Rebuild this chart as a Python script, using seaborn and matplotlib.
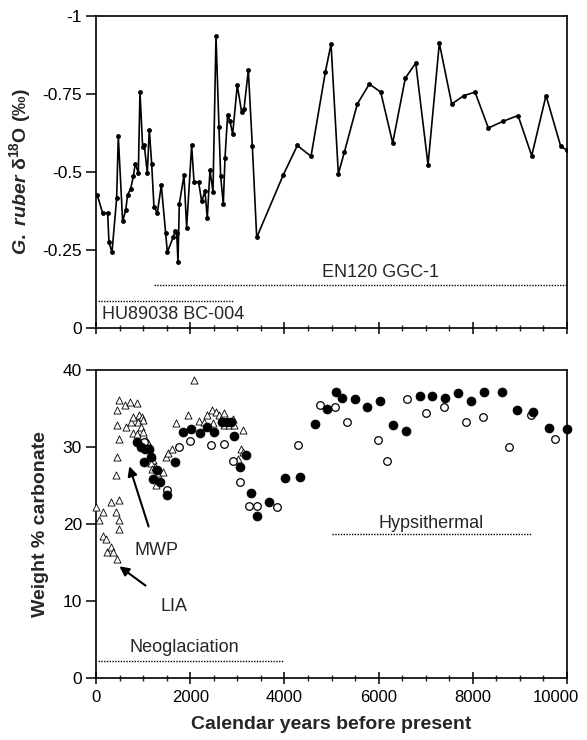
import matplotlib
matplotlib.use("Agg")
import matplotlib.pyplot as plt
import matplotlib.transforms as mtransforms
import seaborn as sns
import pandas as pd
from matplotlib.ticker import MultipleLocator

# ---------------- data ----------------
top_years = [28, 141, 248, 276, 340, 439, 474, 566, 630, 672, 736, 793, 835, 899, 934,
             991, 1026, 1090, 1132, 1182, 1231, 1302, 1387, 1479, 1515, 1642, 1677, 1713,
             1741, 1769, 1868, 1925, 2031, 2081, 2180, 2243, 2314, 2363, 2420, 2484, 2548,
             2611, 2647, 2703, 2739, 2795, 2845, 2902, 3000, 3093, 3142, 3234, 3319, 3412,
             3977, 4275, 4565, 4869, 4990, 5145, 5272, 5548, 5803, 6045, 6299, 6567, 6788,
             7049, 7289, 7552, 7813, 8047, 8329, 8635, 8960, 9250, 9554, 9866, 10000]
top_d18o = [-0.426, -0.368, -0.368, -0.274, -0.243, -0.416, -0.614, -0.342, -0.377, -0.427,
            -0.446, -0.486, -0.527, -0.497, -0.756, -0.579, -0.585, -0.497, -0.636, -0.527,
            -0.388, -0.369, -0.457, -0.304, -0.243, -0.292, -0.310, -0.304, -0.213, -0.398,
            -0.489, -0.322, -0.585, -0.468, -0.467, -0.406, -0.438, -0.352, -0.505, -0.437,
            -0.935, -0.643, -0.486, -0.397, -0.545, -0.684, -0.662, -0.622, -0.778, -0.691,
            -0.702, -0.826, -0.584, -0.290, -0.491, -0.585, -0.550, -0.820, -0.910, -0.494,
            -0.563, -0.718, -0.782, -0.756, -0.593, -0.801, -0.849, -0.523, -0.913, -0.718,
            -0.745, -0.756, -0.641, -0.662, -0.681, -0.552, -0.745, -0.582, -0.570]

tri_years = [0, 71, 142, 142, 213, 241, 312, 369, 440, 312, 426, 426, 454, 497, 489, 497,
             497, 454, 440, 489, 617, 723, 879, 631, 738, 780, 794, 879, 901, 922, 972,
             1007, 950, 1007, 1057, 1099, 1149, 1184, 1220, 1170, 1184, 1255, 1326, 1277,
             1433, 1489, 1539, 1610, 1702, 1943, 2085, 2177, 2298, 2355, 2461, 2553, 2603,
             2653, 2709, 2709, 2816, 2908, 2936, 3121, 3078, 3113, 3007, 2482]
tri_carb = [22.2, 20.5, 21.5, 18.4, 18.1, 16.3, 17.0, 16.4, 15.4, 22.9, 21.5, 26.4, 28.7,
            23.1, 20.5, 19.3, 31.0, 32.9, 34.8, 36.1, 35.5, 35.9, 35.7, 32.6, 33.3, 33.9,
            31.8, 31.7, 33.3, 34.2, 33.9, 33.5, 32.6, 32.0, 30.9, 30.5, 30.0, 29.0, 28.3,
            27.9, 27.2, 27.4, 26.6, 25.1, 26.7, 28.7, 29.2, 29.7, 33.1, 34.2, 38.7, 33.4,
            33.3, 34.2, 34.8, 34.6, 34.2, 33.7, 34.4, 32.9, 32.9, 33.7, 32.9, 32.2, 29.8,
            29.4, 28.5, 33.1]

filled_years = [865, 957, 1043, 1135, 1028, 1170, 1291, 1220, 1362, 1518, 1681, 1858, 2021,
                2199, 2355, 2511, 2674, 2780, 2865, 2936, 3191, 3064, 3291, 3418, 3681,
                4021, 4340, 4645, 4908, 5085, 5227, 5489, 5759, 6021, 6312, 6582, 6872,
                7128, 7404, 7695, 7957, 8241, 8610, 8936, 9283, 9624, 10000]
filled_carb = [30.6, 30.0, 29.8, 29.7, 28.0, 28.7, 27.0, 25.9, 25.4, 23.8, 28.0, 32.0, 32.4,
               31.8, 32.6, 31.9, 33.2, 33.3, 33.3, 31.4, 29.0, 27.4, 24.0, 21.0, 22.9,
               26.0, 26.1, 33.0, 34.9, 37.2, 36.4, 36.2, 35.2, 36.0, 32.8, 32.1, 36.6,
               36.6, 36.4, 37.0, 36.0, 37.1, 37.1, 34.8, 34.5, 32.5, 32.3]

open_years = [1028, 1518, 1752, 1986, 2447, 2709, 2901, 3064, 3255, 3418, 3844, 4284, 4766,
              5064, 5333, 5986, 6170, 6610, 7007, 7390, 7851, 8220, 8773, 9234, 9752]
open_carb = [30.7, 24.4, 30.0, 30.8, 30.2, 30.4, 28.2, 25.4, 22.4, 22.4, 22.2, 30.2, 35.4,
             35.2, 33.2, 30.9, 28.2, 36.2, 34.4, 35.2, 33.3, 33.9, 30.0, 34.2, 31.1]

# core spans (top panel) and climate periods (bottom panel)
core_names = ["EN120 GGC-1", "HU89038 BC-004"]
core_start = [1234, 50]
core_end = [10000, 2920]
core_level = [-0.139, -0.088]

period_names = ["Hypsithermal", "Neoglaciation"]
period_start = [5014, 50]
period_end = [9234, 3971]
period_level = [18.7, 2.2]

x_ticks = [0, 2000, 4000, 6000, 8000, 10000]
top_yticks = [-1, -0.75, -0.5, -0.25, 0]
top_yticklabels = ["-1", "-0.75", "-0.5", "-0.25", "0"]
bot_yticks = [0, 10, 20, 30, 40]

# ---------------- style ----------------
sns.set_theme(style="ticks")
plt.rcParams['font.family'] = ['Liberation Sans', 'DejaVu Sans']
plt.rcParams['mathtext.fontset'] = 'custom'
plt.rcParams['mathtext.it'] = 'Liberation Sans:italic:bold'
plt.rcParams['mathtext.rm'] = 'Liberation Sans:bold'
plt.rcParams['mathtext.bf'] = 'Liberation Sans:bold'
plt.rcParams['axes.linewidth'] = 1.2

fig = plt.figure(figsize=(5.87, 7.40), dpi=100)
fig.patch.set_facecolor('white')
ax1 = fig.add_axes([0.1635, 0.5568, 0.8025, 0.4216])
ax2 = fig.add_axes([0.1635, 0.0838, 0.8025, 0.4162])

# ---------------- top panel ----------------
top_df = pd.DataFrame({"year": top_years, "d18o": top_d18o})
sns.lineplot(data=top_df, x="year", y="d18o", ax=ax1, color="black", lw=1.2,
             marker="o", markersize=3.5, markeredgewidth=0, sort=False, estimator=None)
ax1.set_xlim(0, 10000)
ax1.set_ylim(0, -1)
ax1.set_yticks(top_yticks)
ax1.set_yticklabels(top_yticklabels)
ax1.set_xticks(x_ticks)
ax1.set_xticklabels([])
ax1.xaxis.set_minor_locator(MultipleLocator(500))
ax1.set_xlabel("")
ax1.set_ylabel(r"$\it{G.\ ruber}$ δ$^{18}$O (‰)", fontsize=14, fontweight="bold", labelpad=7)

for name, s, e, lv in zip(core_names, core_start, core_end, core_level):
    ax1.plot([s, e], [lv, lv], color="black", lw=1.0, linestyle=(0, (1, 1)))
ax1.text(6050, -0.177, core_names[0], ha="center", va="center", fontsize=13)
ax1.text(135, -0.043, core_names[1], ha="left", va="center", fontsize=13)

# ---------------- bottom panel ----------------
tri_df = pd.DataFrame({"year": tri_years, "carb": tri_carb})
fil_df = pd.DataFrame({"year": filled_years, "carb": filled_carb})
opn_df = pd.DataFrame({"year": open_years, "carb": open_carb})

sns.scatterplot(data=tri_df, x="year", y="carb", ax=ax2, marker="^", s=26,
                facecolor="white", edgecolor="black", linewidth=0.6, zorder=3, clip_on=False)
sns.scatterplot(data=opn_df, x="year", y="carb", ax=ax2, marker="o", s=30,
                facecolor="white", edgecolor="black", linewidth=0.9, zorder=3, clip_on=False)
sns.scatterplot(data=fil_df, x="year", y="carb", ax=ax2, marker="o", s=42,
                color="black", edgecolor="black", linewidth=0.5, zorder=4, clip_on=False)

ax2.set_xlim(0, 10000)
ax2.set_ylim(0, 40)
ax2.set_yticks(bot_yticks)
ax2.set_xticks(x_ticks)
ax2.xaxis.set_minor_locator(MultipleLocator(500))
ax2.set_xlabel("Calendar years before present", fontsize=14, fontweight="bold", labelpad=8)
ax2.set_ylabel("Weight % carbonate", fontsize=14, fontweight="bold", labelpad=10)

for name, s, e, lv in zip(period_names, period_start, period_end, period_level):
    ax2.plot([s, e], [lv, lv], color="black", lw=1.0, linestyle=(0, (1, 1)))
ax2.text(7106, 20.1, period_names[0], ha="center", va="center", fontsize=13)
ax2.text(1875, 3.9, period_names[1], ha="center", va="center", fontsize=13)

ax2.annotate("MWP", xy=(709, 27.5), xytext=(1277, 16.6), ha="center", va="center",
             fontsize=13, arrowprops=dict(arrowstyle="-|>", color="black", lw=1.5,
                                          shrinkA=9, shrinkB=0, mutation_scale=14))
ax2.annotate("LIA", xy=(496, 14.5), xytext=(1653, 9.3), ha="center", va="center",
             fontsize=13, arrowprops=dict(arrowstyle="-|>", color="black", lw=1.5,
                                          shrinkA=11, shrinkB=0, mutation_scale=14))

for ax in (ax1, ax2):
    for sp in ax.spines.values():
        sp.set_visible(True)
        sp.set_linewidth(1.2)
        sp.set_color("black")
    ax.tick_params(axis="y", which="major", direction="out", length=7, width=1.1,
                   labelsize=12.5, pad=3, colors="black")
    ax.tick_params(axis="x", which="major", direction="inout", length=9, width=1.1,
                   labelsize=12, pad=4, colors="black")
    ax.tick_params(axis="x", which="minor", direction="inout", length=4, width=1.0)
    ax.set_facecolor("white")
    ax.grid(False)

# keep the last x tick label inside the figure, as in the reference
last_lab = ax2.get_xticklabels()[-1]
last_lab.set_transform(last_lab.get_transform() +
                       mtransforms.ScaledTranslation(-8 / 72, 0, fig.dpi_scale_trans))

fig.savefig("out.png", dpi=100, facecolor="white")
